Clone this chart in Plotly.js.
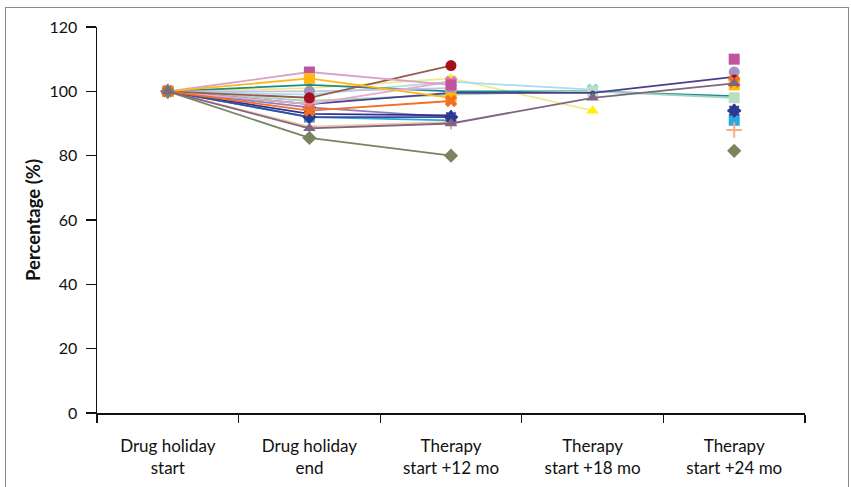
<!DOCTYPE html>
<html>
<head>
<meta charset="utf-8">
<script src="https://cdn.plot.ly/plotly-3.0.1.min.js"></script>
<style>
  html, body { margin: 0; padding: 0; background: #fff; }
  #wrap { position: relative; width: 851px; height: 487px; overflow: hidden; }
  #chart { width: 851px; height: 487px; }
  #frame { position: absolute; left: 5px; top: 7px; width: 842px; height: 500px;
           border: 1px solid #8a8a8a; pointer-events: none; }
</style>
</head>
<body>
<div id="wrap">
  <div id="chart"></div>
  <div id="frame"></div>
</div>
<script>
// Time points (x categories)
const categories = [
  "Drug holiday<br>start",
  "Drug holiday<br>end",
  "Therapy<br>start +12 mo",
  "Therapy<br>start +18 mo",
  "Therapy<br>start +24 mo"
];
const yTicks = [0, 20, 40, 60, 80, 100, 120];

// Patient series (percentage of baseline); null = not measured
const p01 = [100, 101, 104, 94, null];     // yellow triangle
const p02 = [100, 99, 103, 100.5, null];   // light blue X
const p03 = [100, 102, 100, 100, 98.5];    // teal
const p04 = [100, 97, 99, 100, 98];        // light green square
const p05 = [100, 96, 99.5, 99.5, 104.5];  // navy line
const p06 = [100, 100, 101, null, 106];    // lavender circle
const p07 = [100, 92, 91, null, 91];       // cyan square
const p08 = [100, 89, 90.5, null, 88];     // orange plus
const p09 = [100, 95, 92, null, 94];       // purple asterisk
const p10 = [100, 93, 92.5, null, null];   // blue triangle
const p11 = [100, 92, 92, null, 94];       // dark blue diamond
const p12 = [100, 96, 103, null, null];    // pink X
const p13 = [100, 98, 108, null, 103.5];   // dark red circle
const p14 = [100, 106, 102, null, 110];    // magenta square
const p15 = [100, 104, 98, null, 102];     // gold square
const p16 = [100, 94, 97, null, 103];      // orange X
const p17 = [100, 85.5, 80, null, 81.5];   // green-grey diamond
const p18 = [100, 88.5, 90, 98, 102.5];    // mauve triangle

const seriesDefs = [
  {y: p01, line: "#f3ea8a", mk: "#fff200", sym: "triangle-up"},
  {y: p02, line: "#a9dcee", mk: "#7dcfe8", sym: "x"},
  {y: p03, line: "#1b8a8c", mk: "#1b8a8c", sym: "circle", size: 5},
  {y: p04, line: "#9fd3c0", mk: "#b7dfc4", sym: "square"},
  {y: p05, line: "#4b3f8c", mk: "#4b3f8c", sym: "circle", size: 5},
  {y: p06, line: "#c9bfe0", mk: "#a393c4", sym: "circle"},
  {y: p07, line: "#27aae1", mk: "#27aae1", sym: "square"},
  {y: p08, line: "#f4c9a4", mk: "#f9ad81", sym: "cross-thin", lw: 2},
  {y: p09, line: "#8f7fb8", mk: "#5c2d91", sym: "asterisk", lw: 2},
  {y: p10, line: "#2e3192", mk: "#2e3192", sym: "triangle-up"},
  {y: p11, line: "#3a4ea0", mk: "#2b3990", sym: "diamond"},
  {y: p12, line: "#e9a9c8", mk: "#e27fb0", sym: "x"},
  {y: p13, line: "#9a5a4a", mk: "#a3121b", sym: "circle"},
  {y: p14, line: "#d9a2c8", mk: "#c1549c", sym: "square"},
  {y: p15, line: "#fdb913", mk: "#fdb913", sym: "square"},
  {y: p16, line: "#f26f21", mk: "#f26f21", sym: "x"},
  {y: p17, line: "#7b8461", mk: "#7b8461", sym: "diamond"},
  {y: p18, line: "#7d6583", mk: "#7d6583", sym: "triangle-up"}
];

const traces = seriesDefs.map((s, i) => ({
  type: "scatter",
  mode: "lines+markers",
  x: categories,
  y: s.y,
  connectgaps: false,
  showlegend: false,
  hoverinfo: "y",
  line: {color: s.line, width: 1.8},
  marker: {
    symbol: s.sym,
    size: s.size || 11,
    color: s.mk,
    line: {color: s.mk, width: s.lw || 0}
  }
}));

const layout = {
  width: 851,
  height: 487,
  paper_bgcolor: "#ffffff",
  plot_bgcolor: "#ffffff",
  margin: {l: 97, r: 46, t: 27, b: 74},
  font: {family: "Lato, 'Open Sans', sans-serif", size: 16, color: "#111"},
  xaxis: {
    type: "category",
    range: [-0.5, 4.5],
    showline: true,
    linecolor: "#111",
    linewidth: 1.5,
    ticks: "outside",
    tickson: "boundaries",
    ticklen: 8,
    tickwidth: 1.2,
    tickcolor: "#111",
    showgrid: false,
    zeroline: false,
    ticklabelstandoff: 17,
    tickfont: {size: 17, color: "#111"}
  },
  yaxis: {
    range: [0, 120],
    tickvals: yTicks,
    ticktext: yTicks.map(String),
    showline: true,
    linecolor: "#111",
    linewidth: 1.5,
    ticks: "outside",
    ticklen: 10,
    tickwidth: 1.2,
    tickcolor: "#111",
    showgrid: false,
    zeroline: false,
    ticklabelstandoff: 5,
    tickfont: {size: 16, color: "#111"},
    title: {text: "<b>Percentage (%)</b>", font: {size: 18.5, color: "#111"}, standoff: 4}
  }
};

Plotly.newPlot("chart", traces, layout, {displayModeBar: false, staticPlot: true});
</script>
</body>
</html>
